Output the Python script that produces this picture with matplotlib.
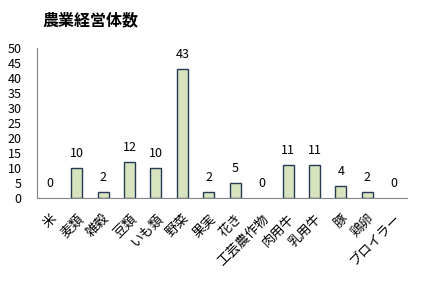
import matplotlib
matplotlib.use("Agg")
import matplotlib.pyplot as plt

plt.rcParams['font.family'] = ['Noto Sans CJK JP', 'DejaVu Sans']

categories = ["米", "麦類", "雑穀", "豆類", "いも類", "野菜", "果実", "花き",
              "工芸農作物", "肉用牛", "乳用牛", "豚", "鶏卵", "ブロイラー"]
values = [0, 10, 2, 12, 10, 43, 2, 5, 0, 11, 11, 4, 2, 0]
yticks = [0, 5, 10, 15, 20, 25, 30, 35, 40, 45, 50]
title = "農業経営体数"

fig = plt.figure(figsize=(4.21, 2.81), dpi=100)
ax = fig.add_axes([37/421, 1-198/281, 370/421, 150/281])

x = list(range(len(categories)))
bars = ax.bar(x, values, width=0.42, color="#D7E4BD", edgecolor="#243B55", linewidth=1.0, zorder=3)
for b, v in zip(bars, values):
    if v == 0:
        b.set_linewidth(0)
for xi, v in zip(x, values):
    ax.annotate(str(v), (xi, v), xytext=(0, 6), textcoords="offset points",
                ha="center", va="bottom", fontsize=9, color="black")

ax.set_xlim(-0.5, len(categories) - 0.5)
ax.set_ylim(0, 50)
ax.set_yticks(yticks)
ax.set_yticklabels([str(t) for t in yticks], fontsize=9)
ax.set_xticks(x)
ax.set_xticklabels(categories, rotation=45, ha="right", va="top",
                   rotation_mode="anchor", fontsize=9.5)
ax.tick_params(axis="y", length=0, pad=11)
ax.tick_params(axis="x", length=0, pad=10)

for s in ["top", "right"]:
    ax.spines[s].set_visible(False)
ax.spines["left"].set_color("#868686")
ax.spines["bottom"].set_color("#868686")

fig.text(42/421, 1-20/281, title, fontsize=11.5, fontweight="bold", ha="left", va="center")

fig.savefig("out.png", dpi=100)
